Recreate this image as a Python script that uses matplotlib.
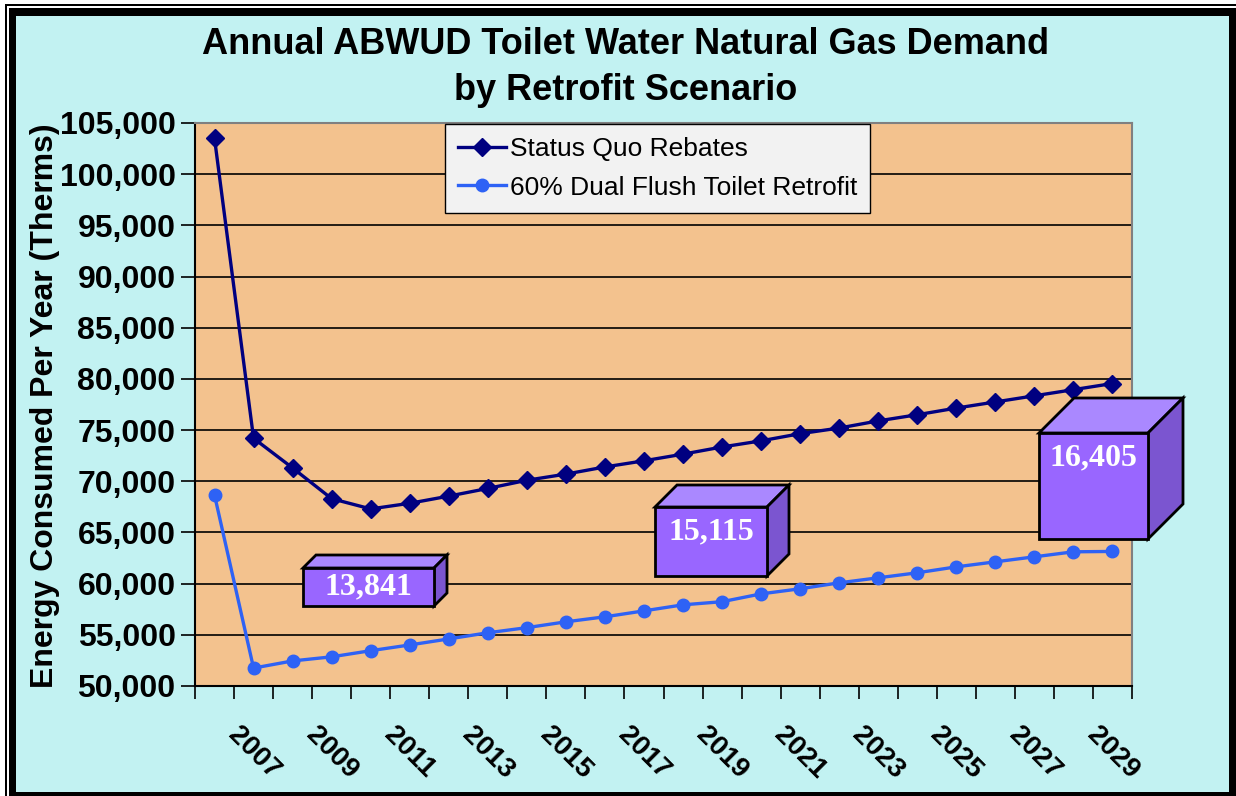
import numpy as np
import matplotlib
matplotlib.use("Agg")
import matplotlib.pyplot as plt
from matplotlib.patches import Rectangle, Polygon

plt.rcParams["font.family"] = ["Liberation Sans", "DejaVu Sans"]

# ==========================================
# 1) data
# ==========================================
years = list(range(2006, 2030))

status_quo = [103500, 74200, 71300, 68300, 67300, 67850, 68550, 69300,
              70100, 70700, 71400, 72000, 72650, 73350, 73950, 74650,
              75200, 75900, 76500, 77150, 77750, 78350, 78950, 79550]

dual_flush = [68650, 51750, 52450, 52850, 53450, 54010, 54600, 55200,
              55700, 56270, 56760, 57340, 57930, 58235, 59000, 59500,
              60080, 60570, 61060, 61640, 62130, 62620, 63110, 63145]

series_names = ["Status Quo Rebates", "60% Dual Flush Toilet Retrofit"]

# savings callouts (label, year)
savings_labels = ["13,841", "15,115", "16,405"]
savings_years = [2011, 2019, 2029]

title_lines = ["Annual ABWUD Toilet Water Natural Gas Demand", "by Retrofit Scenario"]
y_label = "Energy Consumed Per Year (Therms)"

# ==========================================
# 2) figure
# ==========================================
W, H = 1236, 796
fig = plt.figure(figsize=(W / 100, H / 100), dpi=100, facecolor="white")


def px_rect(x0, y0, x1, y1, **kw):
    # rectangle given in pixel coords (origin top-left)
    r = Rectangle((x0 / W, 1 - y1 / H), (x1 - x0) / W, (y1 - y0) / H,
                  transform=fig.transFigure, **kw)
    fig.add_artist(r)
    return r


# double frame round the chart
px_rect(5, 4, 1260, 820, facecolor="black", edgecolor="none", zorder=-30)
px_rect(7, 6, 1260, 820, facecolor="white", edgecolor="none", zorder=-29)
px_rect(9, 8, 1260, 820, facecolor="black", edgecolor="none", zorder=-28)
px_rect(16, 16, 1229, 792, facecolor="#C2F2F2", edgecolor="none", zorder=-27)

ax = fig.add_axes([195 / W, 1 - 686 / H, (1132 - 195) / W, (686 - 123) / H])
ax.set_facecolor("#F3C28E")

x = np.arange(len(years))
ax.plot(x, status_quo, color="#000080", lw=2.4, marker="D", ms=9.5,
        label=series_names[0], zorder=3)
ax.plot(x, dual_flush, color="#2E62F5", lw=2.4, marker="o", ms=9,
        label=series_names[1], zorder=3)

ax.set_xlim(-0.5, len(years) - 0.5)
ax.set_ylim(50000, 105000)
ax.set_yticks(np.arange(50000, 105001, 5000))
ax.set_yticklabels([f"{v:,}" for v in range(50000, 105001, 5000)],
                   fontsize=23, fontweight="bold")
ax.yaxis.grid(True, color="black", lw=1.2)
ax.set_axisbelow(True)

# tick marks between categories, labels every second year
ax.set_xticks(np.arange(-0.5, len(years), 1.0))
ax.set_xticklabels([])
lab_idx = [i for i, yr in enumerate(years) if yr % 2 == 1]
ax.set_xticks(lab_idx, minor=True)
ax.set_xticklabels([str(years[i]) for i in lab_idx], minor=True,
                   rotation=-45, ha="center", va="top",
                   fontsize=20, fontweight="bold")
ax.tick_params(axis="x", which="major", length=9, width=1.2, direction="out")
ax.tick_params(axis="x", which="minor", length=0, pad=26)
ax.tick_params(axis="y", length=10, width=1.2, pad=4)

for s in ["top", "right"]:
    ax.spines[s].set_color("#808080")
    ax.spines[s].set_linewidth(1.5)
for s in ["left", "bottom"]:
    ax.spines[s].set_color("black")
    ax.spines[s].set_linewidth(1.5)

leg = ax.legend(loc="upper left", bbox_to_anchor=(445 / W, 1 - 124 / H),
                bbox_transform=fig.transFigure, borderaxespad=0,
                fontsize=19, fancybox=False, framealpha=1,
                facecolor="#F2F2F2", edgecolor="black",
                handlelength=1.8, labelspacing=0.55, borderpad=0.5,
                handletextpad=0.15)
leg.get_frame().set_linewidth(1.0)

# titles
fig.text(0.506, 1 - 44 / H, title_lines[0], ha="center", va="center",
         fontsize=26, fontweight="bold")
fig.text(0.506, 1 - 90 / H, title_lines[1], ha="center", va="center",
         fontsize=26, fontweight="bold")
fig.text(45 / W, 1 - 406 / H, y_label, rotation=90, ha="center", va="center",
         fontsize=23, fontweight="bold")

# ==========================================
# 3) 3D savings boxes (pixel layout)
# ==========================================
box_layout = [
    (303, 568, 434, 606, 13),
    (655, 507, 767, 576, 22),
    (1039, 433, 1148, 539, 35),
]


def to_fig(pts):
    return [(px / W, 1 - py / H) for px, py in pts]


for label, (x0, y0, x1, y1, d) in zip(savings_labels, box_layout):
    front = [(x0, y0), (x1, y0), (x1, y1), (x0, y1)]
    top = [(x0, y0), (x0 + d, y0 - d), (x1 + d, y0 - d), (x1, y0)]
    side = [(x1, y0), (x1 + d, y0 - d), (x1 + d, y1 - d), (x1, y1)]
    for pts, col in [(top, "#AA88FF"), (side, "#7B55D0"), (front, "#9966FF")]:
        fig.add_artist(Polygon(to_fig(pts), closed=True, facecolor=col,
                               edgecolor="black", lw=2, joinstyle="miter",
                               transform=fig.transFigure, zorder=5))
    ty = y0 + min((y1 - y0) / 2, 25)
    fig.text((x0 + x1) / 2 / W, 1 - ty / H, label, ha="center", va="center",
             color="white", fontsize=23, fontweight="bold",
             family="Liberation Serif", zorder=6)

fig.savefig("out.png", dpi=100, facecolor=fig.get_facecolor())
